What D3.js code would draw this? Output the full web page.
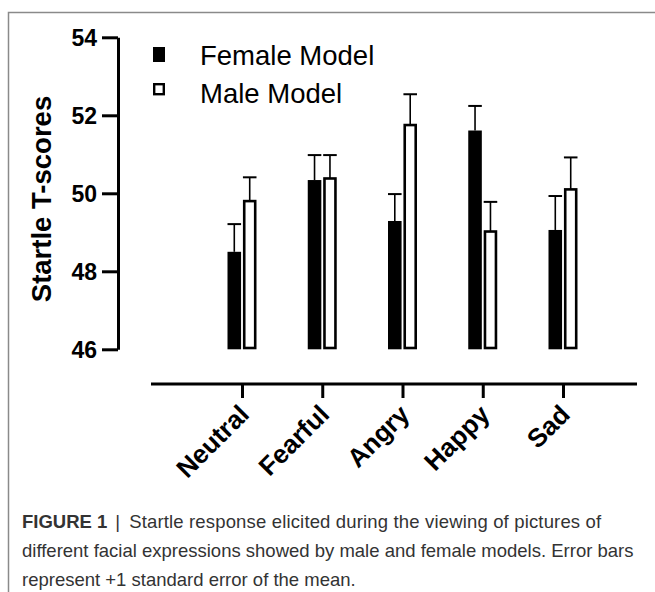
<!DOCTYPE html>
<html>
<head>
<meta charset="utf-8">
<script src="https://cdn.jsdelivr.net/npm/d3@7"></script>
<style>
    body { margin: 0; background: #fff; }
    svg { display: block; }
    .axis path, .axis line { stroke: #000; stroke-width: 3px; }
    .axis text { font-family: "Liberation Sans", Arial, sans-serif;
                 font-weight: bold; font-size: 23px; fill: #000; }
    .x.axis text { font-size: 26px; }
</style>
</head>
<body>
<script>
// Chart data (T-score means and +1 SE)
var categories = ["Neutral", "Fearful", "Angry", "Happy", "Sad"];
var femaleMeans = [48.50, 50.34, 49.29, 51.61, 49.06];
var femaleSE = [0.71, 0.64, 0.69, 0.63, 0.87];
var maleMeans = [49.80, 50.38, 51.75, 49.02, 50.10];
var maleSE = [0.61, 0.60, 0.79, 0.76, 0.82];
var yTicks = [46, 48, 50, 52, 54];
var seriesNames = ["Female Model", "Male Model"];

var W = 655, H = 592;

var svg = d3.select("body").append("svg")
    .attr("width", W)
    .attr("height", H);

// figure frame (top and left edges only are visible)
svg.append("path")
    .attr("d", "M8.5," + H + "V12.5H" + W)
    .attr("fill", "none")
    .attr("stroke", "#8a8a8a")
    .attr("stroke-width", 1.5);

// Scales
var yScale = d3.scaleLinear().domain([46, 54]).range([349.3, 37.3]);
var xScale = d3.scalePoint().domain(categories).range([242, 563]);
var xSub = d3.scaleBand().domain(["female", "male"])
    .range([-14.5, 14.5]).paddingInner(0.12);

// Y axis
var yAxis = d3.axisLeft(yScale).tickValues(yTicks)
    .tickSize(16).tickSizeOuter(0).tickPadding(5);
var gy = svg.append("g")
    .attr("class", "y axis")
    .attr("transform", "translate(118,0)")
    .call(yAxis);
gy.selectAll("text").attr("dy", "0.36em");

// X axis, its baseline sits apart from the bars
var xAxis = d3.axisBottom(xScale).tickSize(14).tickSizeOuter(0);
var gx = svg.append("g")
    .attr("class", "x axis")
    .attr("transform", "translate(0,384)")
    .call(xAxis);
gx.select(".domain").attr("d", "M151,0H637");
gx.selectAll("text")
    .style("text-anchor", "end")
    .attr("dy", "0")
    .attr("y", 0)
    .attr("transform", "translate(8,32) rotate(-45)");

// Y axis title
svg.append("text")
    .attr("transform", "translate(51,199) rotate(-90)")
    .style("text-anchor", "middle")
    .style("font-family", "Liberation Sans, Arial, sans-serif")
    .style("font-weight", "bold")
    .style("font-size", "27.5px")
    .text("Startle T-scores");

// bars
var rows = categories.map(function(c, i) {
    return {
        key: c,
        female: femaleMeans[i], femaleErr: femaleSE[i],
        male: maleMeans[i], maleErr: maleSE[i]
    };
});

var groups = svg.selectAll(".grp")
    .data(rows)
    .enter()
    .append("g")
    .attr("class", "grp")
    .attr("transform", function(d) {
        return "translate(" + xScale(d.key) + ",0)";
    });

// error bars first so the bars cover the stem base
["female", "male"].forEach(function(s) {
    var cx = xSub(s) + xSub.bandwidth() / 2;
    groups.append("line")
        .attr("x1", cx).attr("x2", cx)
        .attr("y1", function(d) { return yScale(d[s]); })
        .attr("y2", function(d) { return yScale(d[s] + d[s + "Err"]); })
        .attr("stroke", "#000").attr("stroke-width", 1.6);
    groups.append("line")
        .attr("x1", xSub(s)).attr("x2", xSub(s) + xSub.bandwidth())
        .attr("y1", function(d) { return yScale(d[s] + d[s + "Err"]); })
        .attr("y2", function(d) { return yScale(d[s] + d[s + "Err"]); })
        .attr("stroke", "#000").attr("stroke-width", 2);
});

groups.append("rect")
    .attr("x", xSub("female"))
    .attr("width", xSub.bandwidth())
    .attr("y", function(d) { return yScale(d.female); })
    .attr("height", function(d) { return yScale(46) - yScale(d.female); })
    .attr("fill", "#000");

var sw = 2.6;
groups.append("rect")
    .attr("x", xSub("male") + sw / 2)
    .attr("width", xSub.bandwidth() - sw)
    .attr("y", function(d) { return yScale(d.male); })
    .attr("height", function(d) {
        return yScale(46) - yScale(d.male) - sw / 2;
    })
    .attr("fill", "#fff")
    .attr("stroke", "#000")
    .attr("stroke-width", sw);

// legend
var legend = svg.append("g").attr("class", "legend");
legend.append("rect")
    .attr("x", 153).attr("y", 47).attr("width", 12).attr("height", 15)
    .attr("fill", "#000");
legend.append("rect")
    .attr("x", 154.2).attr("y", 84.2).attr("width", 9.6).attr("height", 10)
    .attr("fill", "#fff").attr("stroke", "#000").attr("stroke-width", 2.4);
legend.selectAll("text.lg")
    .data(seriesNames)
    .enter()
    .append("text")
    .attr("class", "lg")
    .attr("x", 200)
    .attr("y", function(d, i) { return 65 + i * 38; })
    .style("font-family", "Liberation Sans, Arial, sans-serif")
    .style("font-size", "27.5px")
    .text(function(d) { return d; });

// caption
var capLines = [
    "Startle response elicited during the viewing of pictures of",
    "different facial expressions showed by male and female models. Error bars",
    "represent +1 standard error of the mean."
];
var cap = svg.append("g")
    .style("font-family", "Liberation Sans, Arial, sans-serif")
    .style("font-size", "18.5px")
    .style("fill", "#333");
var t0 = cap.append("text").attr("x", 22).attr("y", 528);
t0.append("tspan").style("font-weight", "bold").text("FIGURE 1");
t0.append("tspan").attr("dx", 8).text("|");
t0.append("tspan").attr("dx", 9).attr("textLength", 472).text(capLines[0]);
cap.selectAll("text.cl")
    .data(capLines.slice(1))
    .enter()
    .append("text")
    .attr("class", "cl")
    .attr("x", 22)
    .attr("y", function(d, i) { return 557 + i * 28.5; })
    .text(function(d) { return d; });
</script>
</body>
</html>
